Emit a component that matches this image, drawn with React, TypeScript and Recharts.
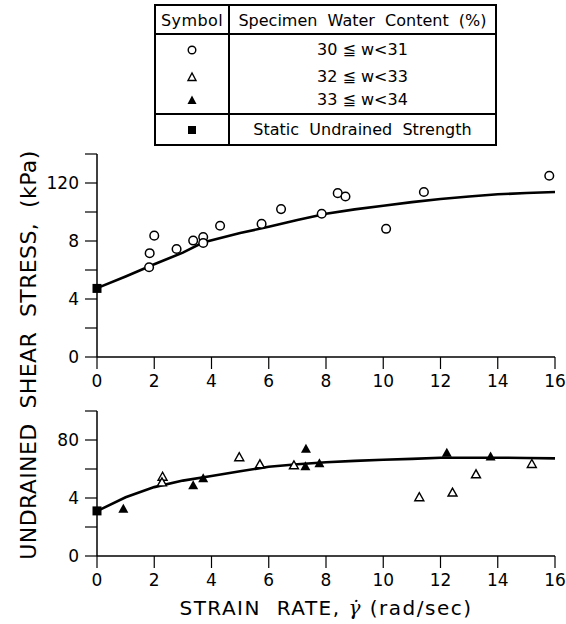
import React from 'react';
import { ScatterChart, Scatter, XAxis, YAxis } from 'recharts';

const X_TICKS = [0, 2, 4, 6, 8, 10, 12, 14, 16];

const TOP_Y_TICKS = [0, 20, 40, 60, 80, 100, 120, 140];
const TOP_Y_LABELS = ['0', '', '4', '', '8', '', '120', ''];
const BOTTOM_Y_TICKS = [0, 20, 40, 60, 80, 100];
const BOTTOM_Y_LABELS = ['0', '', '4', '', '80', ''];

// top panel: 30 <= w < 31
const TOP_OPEN_CIRCLES = [
  { x: 1.82, y: 61.9 }, { x: 1.84, y: 71.6 }, { x: 2.0, y: 83.7 }, { x: 2.78, y: 74.5 },
  { x: 3.36, y: 80.3 }, { x: 3.71, y: 82.7 }, { x: 3.71, y: 78.6 }, { x: 4.3, y: 90.5 },
  { x: 5.75, y: 91.8 }, { x: 6.43, y: 102 }, { x: 7.85, y: 98.8 }, { x: 8.41, y: 113 },
  { x: 8.68, y: 110.7 }, { x: 10.1, y: 88.4 }, { x: 11.42, y: 113.8 }, { x: 15.8, y: 125 },
];
const TOP_STATIC = [{ x: 0, y: 47.3 }];
const TOP_FIT_X = [0, 1, 2, 3, 3.7, 5, 6, 7, 8, 9, 10, 11, 12, 13, 14, 15, 16];
const TOP_FIT_Y = [47.5, 55.5, 64, 72, 78.9, 85.5, 89.8, 94.5, 98.8, 101.8, 104.3, 106.8, 109, 110.7, 112.2, 113.1, 113.8];

// bottom panel
const BOTTOM_OPEN_TRI = [
  { x: 2.29, y: 54.3 }, { x: 2.27, y: 50.4 }, { x: 4.97, y: 67.8 }, { x: 5.69, y: 62.9 },
  { x: 6.88, y: 62.2 }, { x: 11.26, y: 40.2 }, { x: 12.42, y: 43.4 }, { x: 13.24, y: 56 },
  { x: 15.19, y: 63.1 },
];
const BOTTOM_FILLED_TRI = [
  { x: 0.92, y: 32.3 }, { x: 3.36, y: 48.5 }, { x: 3.71, y: 53.2 }, { x: 7.28, y: 61.5 },
  { x: 7.3, y: 73.6 }, { x: 7.77, y: 63.6 }, { x: 12.22, y: 70.8 }, { x: 13.75, y: 68.2 },
];
const BOTTOM_STATIC = [{ x: 0, y: 31.1 }];
const BOTTOM_FIT_X = [0, 1, 2, 3, 4, 5, 6, 7, 8, 9, 10, 11, 12, 13, 14, 15, 16];
const BOTTOM_FIT_Y = [31, 40.5, 47.5, 52, 55.2, 58.5, 61.5, 63.3, 64.7, 65.6, 66.4, 67, 67.8, 67.8, 67.8, 67.6, 67.3];

const LEGEND_ROWS = [
  { symbol: 'circle', label: '30 ≦ w<31' },
  { symbol: 'openTri', label: '32 ≦ w<33' },
  { symbol: 'filledTri', label: '33 ≦ w<34' },
  { symbol: 'square', label: 'Static  Undrained  Strength' },
];

const FONT = '"DejaVu Sans", sans-serif';

const toPoints = (xs: number[], ys: number[]) => xs.map((x, i) => ({ x, y: ys[i] }));

const Circle = (p: any) => <circle cx={p.cx} cy={p.cy} r={4.3} fill="#fff" stroke="#000" strokeWidth={1.5} />;
const OpenTri = (p: any) => (
  <polygon points={`${p.cx},${p.cy - 5} ${p.cx - 4.5},${p.cy + 3} ${p.cx + 4.5},${p.cy + 3}`} fill="#fff" stroke="#000" strokeWidth={1.4} />
);
const FilledTri = (p: any) => (
  <polygon points={`${p.cx},${p.cy - 5.5} ${p.cx - 5},${p.cy + 3.5} ${p.cx + 5},${p.cy + 3.5}`} fill="#000" />
);
const Square = (p: any) => <rect x={p.cx - 4.5} y={p.cy - 4.5} width={9} height={9} fill="#000" />;
const NoDot = () => <g />;

const tickStyle = { fontSize: 17, fill: '#000', fontFamily: FONT };

const Panel = ({ top, height, marginTop, yMax, yTicks, yLabels, children }: any) => (
  <div style={{ position: 'absolute', left: 0, top }}>
    <ScatterChart width={566} height={height} margin={{ top: marginTop, right: 11, bottom: 0, left: 0 }}>
      <XAxis
        type="number" dataKey="x" domain={[0, 16]} ticks={X_TICKS} interval={0}
        height={38} tickSize={12} tickMargin={6} tick={tickStyle}
        axisLine={{ stroke: '#000', strokeWidth: 1.5 }} tickLine={{ stroke: '#000', strokeWidth: 1.2 }}
      />
      <YAxis
        type="number" dataKey="y" domain={[0, yMax]} ticks={yTicks} interval={0}
        width={97} tickSize={12} tickMargin={6} tick={tickStyle}
        tickFormatter={(v: number, i: number) => yLabels[i]}
        axisLine={{ stroke: '#000', strokeWidth: 1.5 }} tickLine={{ stroke: '#000', strokeWidth: 1.2 }}
      />
      {children}
    </ScatterChart>
  </div>
);

const LegendSymbol = ({ kind }: { kind: string }) => (
  <svg width={14} height={14} style={{ display: 'block' }}>
    {kind === 'circle' && <circle cx={7} cy={7} r={3.8} fill="#fff" stroke="#000" strokeWidth={1.4} />}
    {kind === 'openTri' && <polygon points="7,3 3,10.5 11,10.5" fill="#fff" stroke="#000" strokeWidth={1.4} />}
    {kind === 'filledTri' && <polygon points="7,2.5 2.5,11 11.5,11" fill="#000" />}
    {kind === 'square' && <rect x={3} y={3} width={8} height={8} fill="#000" />}
  </svg>
);

const LEGEND_ROW_Y = [44, 71, 94, 124]; // centres relative to table top

export default function App() {
  return (
    <div style={{ position: 'absolute', left: 0, top: 0, width: 566, height: 624, background: '#fff', fontFamily: FONT, color: '#000' }}>
      {/* legend table */}
      <div style={{ position: 'absolute', left: 154, top: 4, width: 343, height: 142, border: '2px solid #000', boxSizing: 'border-box' }}>
        <div style={{ position: 'absolute', left: 72, top: 0, width: 2, height: 140, background: '#000' }} />
        <div style={{ position: 'absolute', left: 0, top: 27, width: 339, height: 2, background: '#000' }} />
        <div style={{ position: 'absolute', left: 0, top: 107, width: 339, height: 2, background: '#000' }} />
        <div style={{ position: 'absolute', left: 0, top: 5, width: 72, textAlign: 'center', fontSize: 16, letterSpacing: 0.4, lineHeight: '20px' }}>Symbol</div>
        <div style={{ position: 'absolute', left: 74, top: 5, width: 265, textAlign: 'center', fontSize: 16, lineHeight: '20px', whiteSpace: 'pre' }}>Specimen  Water  Content  (%)</div>
        {LEGEND_ROWS.map((r, i) => (
          <React.Fragment key={i}>
            <div style={{ position: 'absolute', left: 29, top: LEGEND_ROW_Y[i] - 7 }}>
              <LegendSymbol kind={r.symbol} />
            </div>
            <div style={{ position: 'absolute', left: 74, top: LEGEND_ROW_Y[i] - 10, width: 265, textAlign: 'center', fontSize: 16, lineHeight: '20px', whiteSpace: 'pre' }}>{r.label}</div>
          </React.Fragment>
        ))}
      </div>

      <Panel top={140} height={255} marginTop={14} yMax={140} yTicks={TOP_Y_TICKS} yLabels={TOP_Y_LABELS}>
        <Scatter data={toPoints(TOP_FIT_X, TOP_FIT_Y)} line={{ stroke: '#000', strokeWidth: 2.6 }} lineType="joint" shape={NoDot} isAnimationActive={false} />
        <Scatter data={TOP_OPEN_CIRCLES} shape={Circle} isAnimationActive={false} />
        <Scatter data={TOP_STATIC} shape={Square} isAnimationActive={false} />
      </Panel>

      <Panel top={400} height={194} marginTop={11} yMax={100} yTicks={BOTTOM_Y_TICKS} yLabels={BOTTOM_Y_LABELS}>
        <Scatter data={toPoints(BOTTOM_FIT_X, BOTTOM_FIT_Y)} line={{ stroke: '#000', strokeWidth: 2.6 }} lineType="joint" shape={NoDot} isAnimationActive={false} />
        <Scatter data={BOTTOM_OPEN_TRI} shape={OpenTri} isAnimationActive={false} />
        <Scatter data={BOTTOM_FILLED_TRI} shape={FilledTri} isAnimationActive={false} />
        <Scatter data={BOTTOM_STATIC} shape={Square} isAnimationActive={false} />
      </Panel>

      {/* y axis title */}
      <div style={{ position: 'absolute', left: 29 - 220, top: 355 - 13, width: 440, height: 26, lineHeight: '26px', textAlign: 'center', fontSize: 22, letterSpacing: 0.4, whiteSpace: 'pre', transform: 'rotate(-90deg)', transformOrigin: 'center' }}>
        UNDRAINED  SHEAR  STRESS,  (kPa)
      </div>

      {/* x axis title */}
      <div style={{ position: 'absolute', left: 97, top: 596, width: 458, lineHeight: '24px', textAlign: 'center', fontSize: 20, letterSpacing: 1.5, whiteSpace: 'pre' }}>
        STRAIN  RATE, <span style={{ fontFamily: '"DejaVu Serif", serif', fontStyle: 'italic' }}>γ̇</span> (rad/sec)
      </div>
    </div>
  );
}
